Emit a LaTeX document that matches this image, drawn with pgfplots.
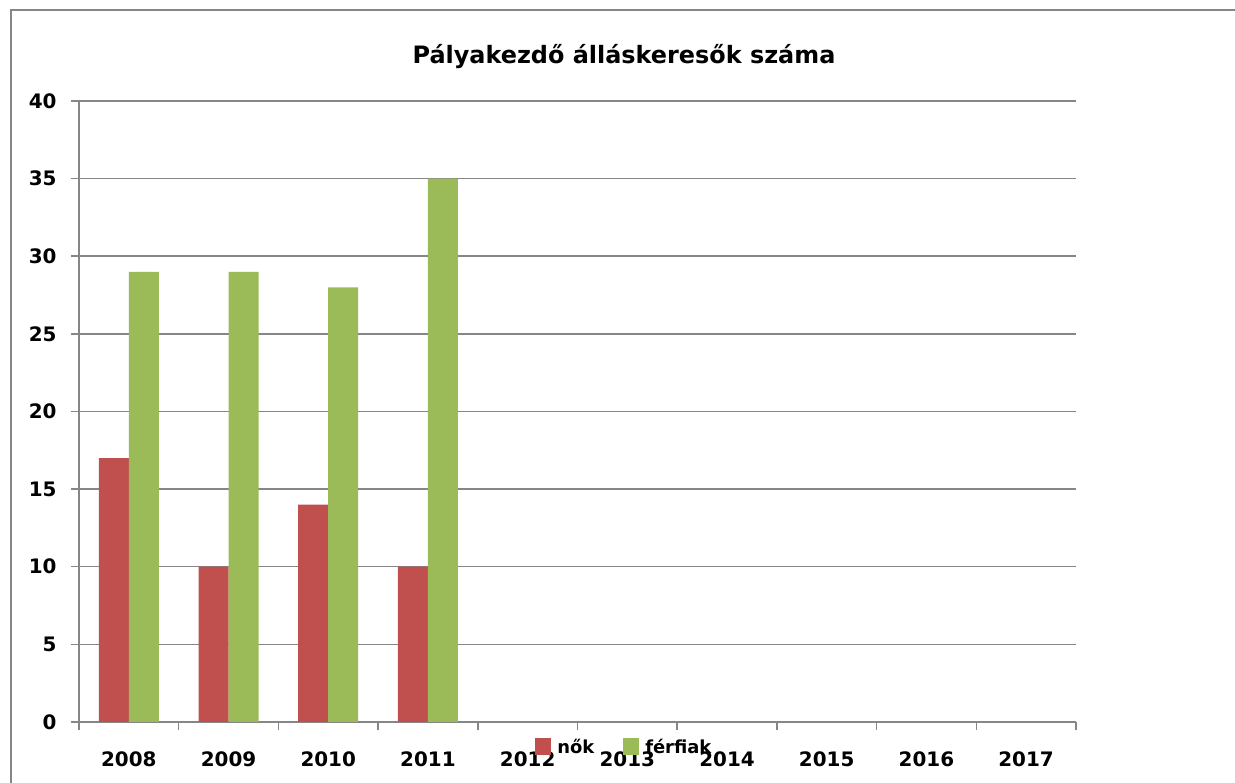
\documentclass[border=0pt]{standalone}
\usepackage{pgfplots}
\pgfplotsset{compat=1.18}
\usepackage{fontspec}
\setmainfont{DejaVu Sans}
\definecolor{nok}{HTML}{C0504D}
\definecolor{ferf}{HTML}{9BBB59}
\definecolor{gridc}{HTML}{868686}
\begin{document}
\begin{tikzpicture}[x=1bp,y=1bp]
\useasboundingbox (0,0) rectangle (1235,783);
\draw[gridc, line width=2bp] (11,-10) -- (11,773) -- (1245,773);
\node[font=\fontsize{24}{28}\selectfont\bfseries] at (624,726) {Pályakezdő álláskeresők száma};
\begin{axis}[
  at={(79bp,61bp)}, anchor=south west, scale only axis,
  width=997bp, height=621bp,
  ybar=0pt, bar width=30bp,
  xmin=-0.5, xmax=9.5, ymin=0, ymax=40,
  axis lines*=left,
  axis line style={gridc, line width=1.5bp},
  ytick={0,5,...,40},
  xtick={-0.5,0.5,...,9.5}, xticklabels={,,,,,,,,,,,},
  extra x ticks={0,1,2,3,4,5,6,7,8,9},
  extra x tick labels={2008,2009,2010,2011,2012,2013,2014,2015,2016,2017},
  extra x tick style={tick style={draw=none}, grid=none},
  tick align=outside, major tick length=8bp,
  tick style={gridc, line width=1.5bp},
  ymajorgrids, grid style={gridc, line width=1.5bp},
  tick label style={font=\fontsize{20}{24}\selectfont\bfseries},
  /pgf/number format/assume math mode=true,
  xticklabel style={yshift=-18bp},
  yticklabel style={xshift=-11bp},
  legend style={at={(0.547,-0.040)}, anchor=center, draw=none, fill=none,
    legend columns=2, font=\fontsize{18}{21}\selectfont\bfseries,
    /tikz/every odd column/.append style={column sep=4bp},
    /tikz/every even column/.append style={column sep=27bp},
    inner sep=0pt},
  legend image code/.code={\fill[#1] (0bp,-8.5bp) rectangle (16bp,8.5bp);},
]
\addplot[fill=nok, draw=none] coordinates {(0,17) (1,10) (2,14) (3,10)};
\addplot[fill=ferf, draw=none] coordinates {(0,29) (1,29) (2,28) (3,35)};
\legend{nők,férfiak}
\end{axis}
\end{tikzpicture}
\end{document}
